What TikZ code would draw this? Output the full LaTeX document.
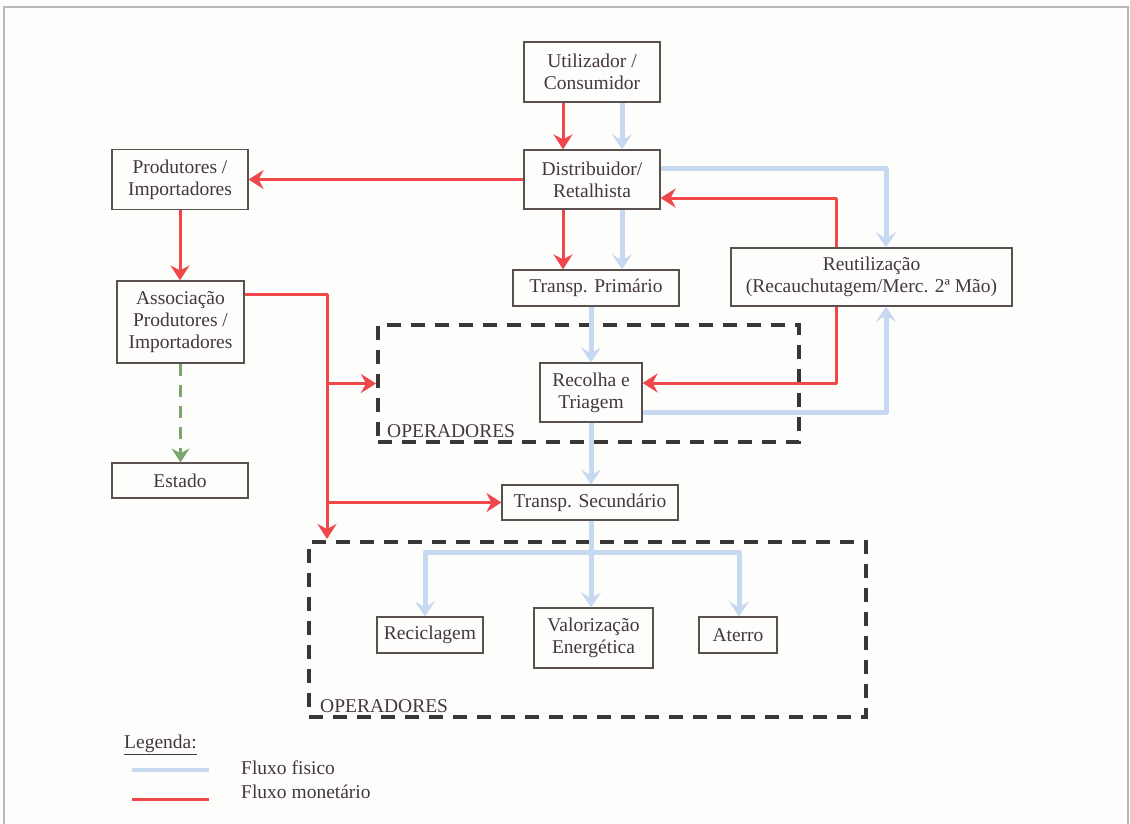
\documentclass[tikz,border=0pt]{standalone}
\usepackage{fontspec}
\setmainfont{Liberation Serif}
\usetikzlibrary{arrows.meta}
\definecolor{fred}{HTML}{F0474A}
\definecolor{fblue}{HTML}{C6D9F1}
\definecolor{fgreen}{HTML}{7BA66E}
\definecolor{txt}{HTML}{45383A}
\definecolor{boxc}{HTML}{5A5050}
\definecolor{opc}{HTML}{3A3636}
\definecolor{bgc}{HTML}{FDFDFB}
\definecolor{framec}{HTML}{B8B8B8}
\begin{document}
\begin{tikzpicture}[x=1pt,y=-1pt,
  txtfont/.style={text=txt,font=\fontsize{19.5}{22}\selectfont},
  box/.style={draw=boxc,line width=1.2pt,inner sep=0pt,align=center,txtfont},
  opbox/.style={draw=opc,line width=4pt,dash pattern=on 14pt off 10pt,inner sep=0pt},
  mflow/.style={draw=fred,line width=3pt,line join=round,-{Stealth[length=15pt,width=19pt,inset=5pt]}},
  pflow/.style={draw=fblue,line width=5pt,line join=round,-{Stealth[length=15pt,width=20pt,inset=6pt]}},
  gflow/.style={draw=fgreen,line width=3pt,dash pattern=on 12pt off 9pt,-{Stealth[length=14pt,width=18pt,inset=5pt]}}
]
\useasboundingbox (0,0) rectangle (1130,824);
\fill[bgc] (0,0) rectangle (1130,824);
\draw[framec,line width=1.2pt] (4,824) -- (4,7) -- (1128,7) -- (1128,824);

% operator areas
\node[opbox,minimum width=421pt,minimum height=117pt] (op1) at (588.5,383.5) {};
\node[opbox,minimum width=557pt,minimum height=175pt] (op2) at (587.5,629.5) {};
\node[txtfont,anchor=base west,inner sep=0pt] (op1l) at (387,437) {OPERADORES};
\node[txtfont,anchor=base west,inner sep=0pt] (op2l) at (320,712) {OPERADORES};

% boxes
\node[box,minimum width=136pt,minimum height=60pt] (user) at (592,72) {Utilizador /\\Consumidor};
\node[box,minimum width=136pt,minimum height=59pt] (dist) at (592,179.5) {Distribuidor/\\Retalhista};
\node[box,minimum width=136pt,minimum height=60pt] (prod) at (180,179.5) {Produtores /\\Importadores};
\node[box,minimum width=166pt,minimum height=36pt] (tp1) at (596,288) {Transp. Primário};
\node[box,minimum width=281pt,minimum height=58pt] (reut) at (871.5,277) {Reutilização\\(Recauchutagem/Merc. 2ª Mão)};
\node[box,minimum width=127pt,minimum height=82pt] (assoc) at (180.5,322) {Associação\\Produtores /\\Importadores};
\node[box,minimum width=136pt,minimum height=35pt] (estado) at (180,480.5) {Estado};
\node[box,minimum width=102pt,minimum height=59pt] (recol) at (591,392.5) {Recolha e\\Triagem};
\node[box,minimum width=176pt,minimum height=35pt] (tp2) at (590,502.5) {Transp. Secundário};
\node[box,minimum width=106pt,minimum height=36pt] (recic) at (430,635) {Reciclagem};
\node[box,minimum width=119pt,minimum height=60pt] (valor) at (593.5,638) {Valorização\\Energética};
\node[box,minimum width=78pt,minimum height=36pt] (aterro) at (738,635) {Aterro};

% physical flows
\draw[pflow] ([xshift=30pt]user.south) -- ([xshift=30pt]dist.north);
\draw[pflow] ([xshift=30pt]dist.south) -- ([xshift=30pt]dist.south |- tp1.north);
\draw[pflow] ([yshift=10.5pt]dist.east) -| ([xshift=14.5pt]reut.north);
\draw[pflow] ([yshift=-19.5pt]recol.east) -| ([xshift=14.5pt]reut.south);
\draw[pflow] (tp1.south -| recol.north) -- (recol.north);
\draw[pflow] (recol.south) -- (recol.south |- tp2.north);
\coordinate (bl) at (425,552);
\coordinate (bc) at (591,552);
\coordinate (br) at (739,552);
\draw[pflow] (tp2.south -| bc) -- (valor.north -| bc);
\draw[pflow] (bc) -- (bl) -- (bl |- recic.north);
\draw[pflow] (bc) -- (br) -- (br |- aterro.north);

% monetary flows
\draw[mflow] ([xshift=-29pt]user.south) -- ([xshift=-29pt]dist.north);
\draw[mflow] ([xshift=-29pt]dist.south) -- ([xshift=-29pt]dist.south |- tp1.north);
\draw[mflow] (dist.west) -- (dist.west -| prod.east);
\draw[mflow] ([xshift=-35.5pt]reut.north) |- ([yshift=-18.5pt]dist.east);
\draw[mflow] ([xshift=-35.5pt]reut.south) |- ([yshift=9.5pt]recol.east);
\draw[mflow] (prod.south) -- (prod.south |- assoc.north);
\coordinate (cd) at (327,539);
\draw[mflow] ([yshift=28pt]assoc.east) -| (cd);
\draw[mflow] (op1.west -| cd) -- (op1.west);
\draw[mflow] (tp2.west -| cd) -- (tp2.west);

% state
\draw[gflow] (assoc.south) -- (assoc.south |- estado.north);

% legend
\node[txtfont,anchor=west,inner sep=0pt] (leg) at (124,745) {\underline{Legenda:}};
\coordinate (lb1) at (132,770); \coordinate (lb2) at (209,770);
\coordinate (lr1) at (132,799); \coordinate (lr2) at (209,799);
\draw[fblue,line width=4pt] (lb1) -- (lb2);
\draw[fred,line width=3pt] (lr1) -- (lr2);
\node[txtfont,anchor=west,inner sep=0pt] (lgb) at (241,768) {Fluxo fisico};
\node[txtfont,anchor=west,inner sep=0pt] (lgr) at (241,792) {Fluxo monetário};
\end{tikzpicture}
\end{document}
